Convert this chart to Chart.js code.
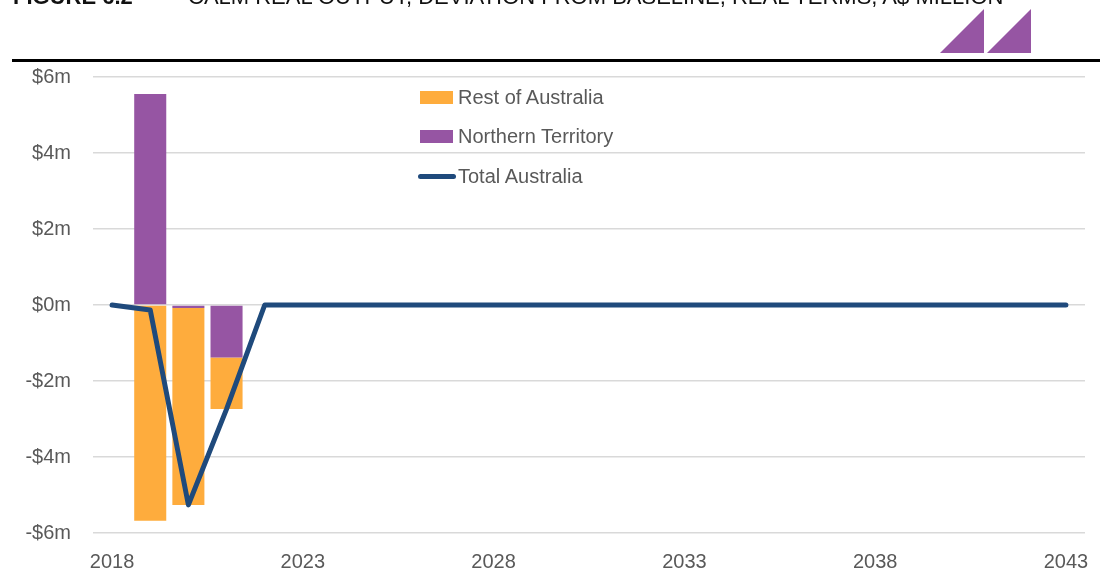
<!DOCTYPE html>
<html>
<head>
<meta charset="utf-8">
<script src="https://cdn.jsdelivr.net/npm/chart.js@4"></script>
<style>
  body { margin: 0; background: #fff; font-family: "Liberation Sans", Arial, sans-serif; }
  #wrap { position: relative; width: 1100px; height: 571px; overflow: hidden; }
  #myChart { position: absolute; left: 0; top: 0; }
  .title { position: absolute; top: -14px; font-size: 22px; line-height: 22px; color: #111; white-space: nowrap; }
  .rule { position: absolute; left: 12px; top: 59px; width: 1088px; height: 3px; background: #000; }
  .tri { position: absolute; top: 9px; width: 44px; height: 44px; background: #9655A3; clip-path: polygon(0 100%, 100% 0, 100% 100%); }
  .leg { position: absolute; font-size: 20px; line-height: 24px; color: #595959; white-space: nowrap; }
  .swatch { position: absolute; }
</style>
</head>
<body>
<div id="wrap">
  <canvas id="myChart" width="1100" height="571"></canvas>
  <div class="title" style="left:13px;font-weight:bold;">FIGURE 6.2</div>
  <div class="title" style="left:188px;">CALM REAL OUTPUT, DEVIATION FROM BASELINE, REAL TERMS, A$ MILLION</div>
  <div class="tri" style="left:940px;"></div>
  <div class="tri" style="left:987px;"></div>
  <div class="rule"></div>

  <div class="swatch" style="left:420px;top:91px;width:33px;height:13px;background:#FEAC3D;"></div>
  <div class="leg" style="left:458px;top:85px;">Rest of Australia</div>
  <div class="swatch" style="left:420px;top:130px;width:33px;height:13px;background:#9655A3;"></div>
  <div class="leg" style="left:458px;top:124px;">Northern Territory</div>
  <div class="swatch" style="left:418px;top:174px;width:38px;height:5px;border-radius:3px;background:#1F4A7C;"></div>
  <div class="leg" style="left:458px;top:164px;">Total Australia</div>
</div>

<script>
// categories and series ($ million)
const years = ["2018", "2019", "2020", "2021", "2022", "2023", "2024", "2025", "2026", "2027",
    "2028", "2029", "2030", "2031", "2032", "2033", "2034", "2035", "2036", "2037",
    "2038", "2039", "2040", "2041", "2042", "2043"];
const northernTerritory = [0, 5.55, -0.08, -1.38, 0, 0, 0, 0, 0, 0, 0, 0, 0, 0, 0, 0, 0, 0, 0, 0, 0, 0, 0, 0, 0, 0];
const restOfAustralia = [0, -5.68, -5.18, -1.36, 0, 0, 0, 0, 0, 0, 0, 0, 0, 0, 0, 0, 0, 0, 0, 0, 0, 0, 0, 0, 0, 0];
const totalAustralia = [0, -0.13, -5.26, -2.74, 0, 0, 0, 0, 0, 0, 0, 0, 0, 0, 0, 0, 0, 0, 0, 0, 0, 0, 0, 0, 0, 0];
const yTicks = [-6, -4, -2, 0, 2, 4, 6];

const tickFont = { family: "'Liberation Sans', Arial, sans-serif", size: 20 };

function fmtMoney(v) {
    return (v < 0 ? "-$" + Math.abs(v) : "$" + v) + "m";
}

let chart;

function initChart() {
    const ctx = document.getElementById("myChart").getContext("2d");
    chart = new Chart(ctx, {
        type: "bar",
        data: {
            labels: years,
            datasets: [
                {
                    label: "Northern Territory",
                    data: northernTerritory,
                    backgroundColor: "#9655A3",
                    stack: "bars",
                    order: 1
                },
                {
                    label: "Rest of Australia",
                    data: restOfAustralia,
                    backgroundColor: "#FEAC3D",
                    stack: "bars",
                    order: 1
                },
                {
                    type: "line",
                    label: "Total Australia",
                    data: totalAustralia,
                    borderColor: "#1F4A7C",
                    borderWidth: 5,
                    pointRadius: 0,
                    tension: 0,
                    borderJoinStyle: "round",
                    borderCapStyle: "round",
                    fill: false,
                    stack: "total",
                    order: 0
                }
            ]
        },
        options: {
            responsive: false,
            animation: false,
            layout: { padding: { top: 77, right: 15, left: 0, bottom: 0 } },
            datasets: {
                bar: { categoryPercentage: 1, barPercentage: 0.84 }
            },
            plugins: {
                legend: { display: false },
                tooltip: { enabled: false }
            },
            scales: {
                x: {
                    offset: true,
                    grid: { display: false, drawTicks: false },
                    border: { display: false },
                    ticks: {
                        autoSkip: false,
                        maxRotation: 0,
                        padding: 17,
                        color: "#595959",
                        font: tickFont,
                        callback: function(v, i) { return i % 5 === 0 ? years[i] : ""; }
                    },
                    afterFit: function(scale) {
                        scale.height = 38;
                        scale.paddingLeft = 0;
                        scale.paddingRight = 0;
                    }
                },
                y: {
                    stacked: true,
                    min: yTicks[0],
                    max: yTicks[yTicks.length - 1],
                    grid: { color: "#D9D9D9", lineWidth: 1.5, drawTicks: false },
                    border: { display: false },
                    afterBuildTicks: function(scale) {
                        scale.ticks = yTicks.map(v => ({ value: v }));
                    },
                    ticks: {
                        padding: 22,
                        color: "#595959",
                        font: tickFont,
                        callback: function(v) { return fmtMoney(v); }
                    },
                    afterFit: function(scale) {
                        scale.width = 93;
                        scale.paddingTop = 0;
                        scale.paddingBottom = 0;
                    }
                }
            }
        }
    });
}

document.addEventListener("DOMContentLoaded", function() {
    initChart();
});
</script>
</body>
</html>
